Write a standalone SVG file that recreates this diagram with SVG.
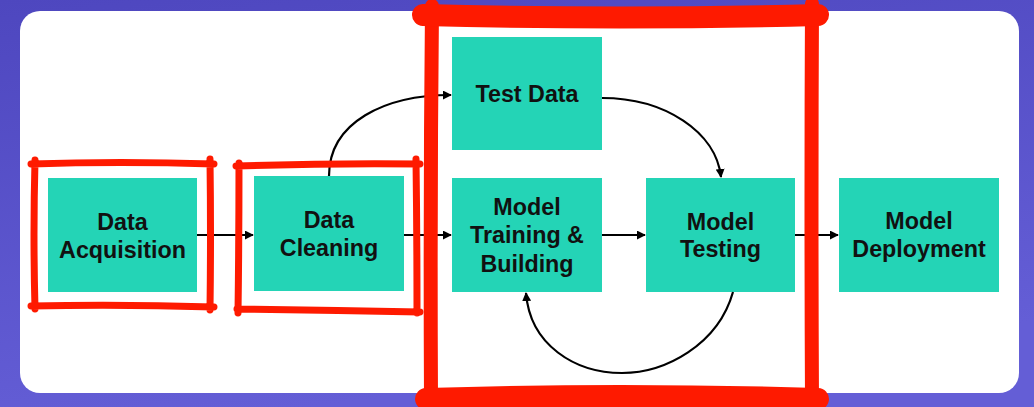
<svg xmlns="http://www.w3.org/2000/svg" width="1034" height="407" viewBox="0 0 1034 407">
<defs>
<linearGradient id="bg" x1="0" y1="0" x2="0.3" y2="1">
<stop offset="0" stop-color="#4e47bf"/>
<stop offset="1" stop-color="#645ed6"/>
</linearGradient>
<marker id="ah" viewBox="0 0 10 10" refX="9" refY="5" markerWidth="9" markerHeight="9" markerUnits="userSpaceOnUse" orient="auto">
<path d="M0,0 L10,5 L0,10 Z" fill="#000"/>
</marker>
<style>
.box{fill:#24d4b6}
.lbl{font-family:"Liberation Sans",Arial,sans-serif;font-weight:bold;font-size:23.3px;fill:#111;text-anchor:middle}
.conn{fill:none;stroke:#000;stroke-width:2.2;marker-end:url(#ah)}
.red{fill:none;stroke:#fe1a00;stroke-linecap:round;stroke-linejoin:round}
</style>
</defs>
<rect x="0" y="0" width="1034" height="407" fill="url(#bg)"/>
<rect x="20" y="11" width="999" height="382" rx="20" fill="#fff"/>

<g id="node-data-acquisition">
<rect class="box" x="48" y="178" width="149" height="114"/>
<text class="lbl" x="122.5" y="230">Data</text>
<text class="lbl" x="122.5" y="258">Acquisition</text>
</g>
<g id="node-data-cleaning">
<rect class="box" x="254" y="176" width="150" height="115"/>
<text class="lbl" x="329" y="228">Data</text>
<text class="lbl" x="329" y="256">Cleaning</text>
</g>
<g id="node-test-data">
<rect class="box" x="452" y="37" width="150" height="113"/>
<text class="lbl" x="527" y="102">Test Data</text>
</g>
<g id="node-model-training">
<rect class="box" x="452" y="178" width="150" height="114"/>
<text class="lbl" x="527" y="215">Model</text>
<text class="lbl" x="527" y="243">Training &amp;</text>
<text class="lbl" x="527" y="272">Building</text>
</g>
<g id="node-model-testing">
<rect class="box" x="646" y="178" width="149" height="114"/>
<text class="lbl" x="720.5" y="230">Model</text>
<text class="lbl" x="720.5" y="257">Testing</text>
</g>
<g id="node-model-deployment">
<rect class="box" x="839" y="178" width="160" height="114"/>
<text class="lbl" x="919" y="229">Model</text>
<text class="lbl" x="919" y="257">Deployment</text>
</g>

<g id="connectors">
<path class="conn" d="M197,235 L253,235"/>
<path class="conn" d="M404,235 L451,235"/>
<path class="conn" d="M602,235 L645,235"/>
<path class="conn" d="M795,235 L838,235"/>
<path class="conn" d="M329,176 C329,122 385,95 451,95"/>
<path class="conn" d="M602,98 C665,98 716,132 721,177"/>
<path class="conn" d="M733,292 C718,345 665,373 622,373 C575,373 530,345 526,293"/>
</g>

<g id="highlights">
<path class="red" stroke-width="7" d="M31,164 Q120,161 214,164 M35,160 Q33,235 35,309 M210,159 Q211,235 210,310 M31,306 Q120,304 214,307"/>
<path class="red" stroke-width="7" d="M236,166 Q330,163 420,164 M239,163 Q239,240 238,313 M416,159 Q417,235 417,313 M237,309 Q330,310 420,312"/>
<path class="red" stroke-width="14" d="M432,6 Q430,200 431,400 M812,4 Q811,200 812,402"/>
<path class="red" stroke-width="22" d="M423,15 Q620,20 818,15 M426,399 Q620,393 818,399"/>
</g>
</svg>
